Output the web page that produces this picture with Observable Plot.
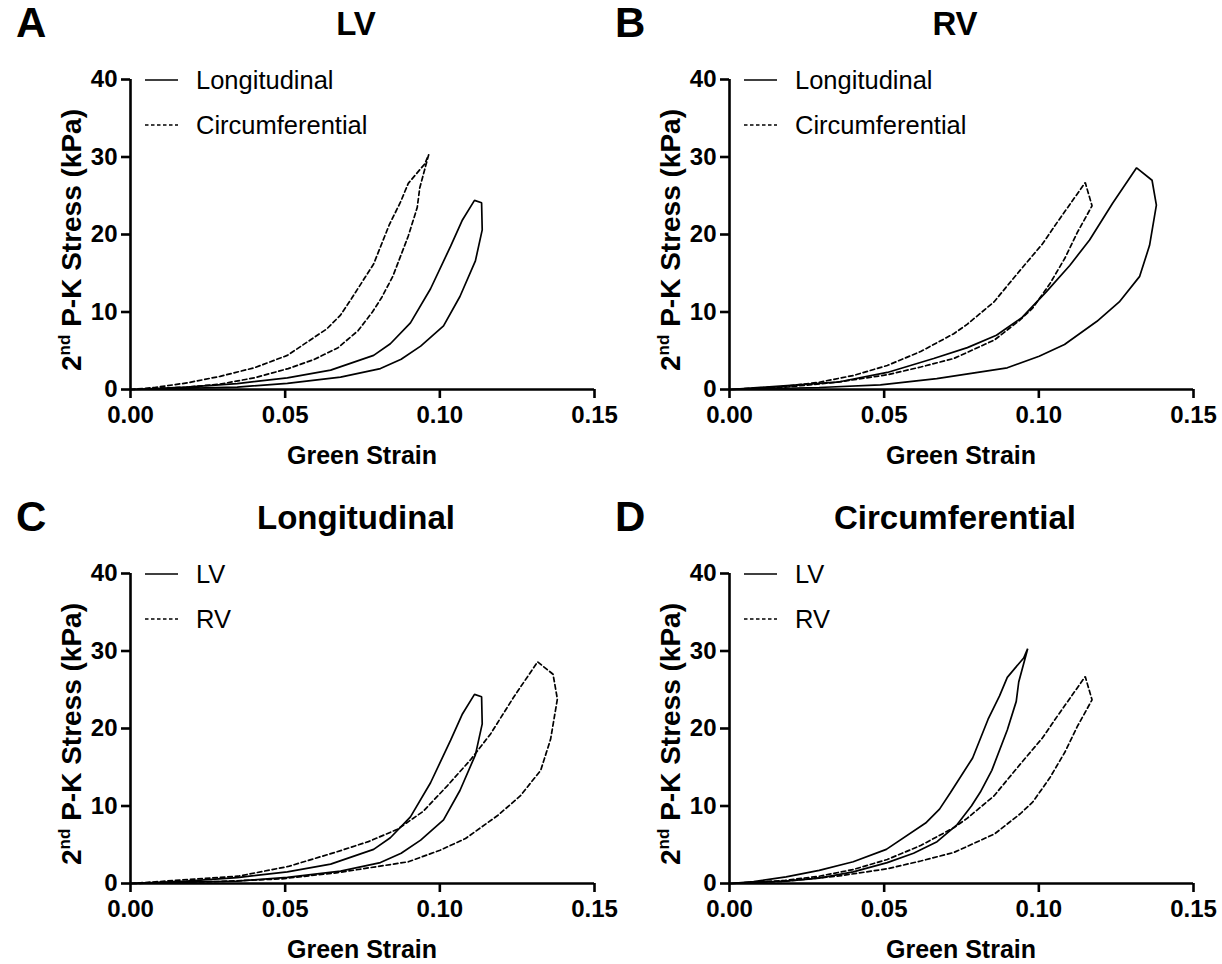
<!DOCTYPE html>
<html><head><meta charset="utf-8">
<script src="https://cdn.jsdelivr.net/npm/d3@7"></script>
<script src="https://cdn.jsdelivr.net/npm/@observablehq/plot@0.6"></script>
<style>
body{margin:0;background:#fff;}
#root{position:relative;width:1222px;height:964px;overflow:hidden;background:#fff;}
.panel{position:absolute;}
</style></head><body><div id="root"></div>
<script>
// ---- data (Green strain, 2nd P-K stress in kPa) ----
const xTicks = [0, 0.05, 0.10, 0.15];
const yTicks = [0, 10, 20, 30, 40];

const lvLongStrain = [0,0.018,0.0345,0.0507,0.0647,0.0786,0.084,0.0905,0.097,0.1035,0.1072,0.1112,0.1135,0.1137,0.1115,0.1065,0.1012,0.0938,0.0875,0.0808,0.0679,0.0507,0.0345,0];
const lvLongStress = [0,0.3,0.77,1.5,2.5,4.4,5.9,8.6,13.0,18.5,21.8,24.4,24.1,20.6,16.6,12.0,8.2,5.6,3.9,2.7,1.6,0.8,0.3,0];

const rvLongStrain = [0,0.0348,0.051,0.066,0.0769,0.0863,0.0946,0.1024,0.110,0.1164,0.1238,0.1316,0.1366,0.138,0.1358,0.1326,0.126,0.1188,0.1083,0.1001,0.0898,0.067,0.0488,0.029,0];
const rvLongStress = [0,0.94,2.2,4.0,5.4,7.0,9.3,12.6,16.0,19.3,24.0,28.6,27.0,23.8,18.6,14.6,11.3,8.8,5.8,4.3,2.8,1.4,0.6,0.26,0];

const lvCircStrain = [0,0.0078,0.0183,0.029,0.040,0.0507,0.0634,0.0679,0.0714,0.0786,0.0836,0.0873,0.0898,0.0951,0.0964,0.0935,0.0927,0.0898,0.0848,0.0811,0.0782,0.0736,0.0671,0.0595,0.051,0.040,0.029,0.0183,0];
const lvCircStress = [0,0.26,0.85,1.7,2.8,4.4,7.8,9.6,11.7,16.2,21.2,24.2,26.6,29.1,30.3,26.0,23.5,19.8,14.6,11.8,10.0,7.6,5.4,3.9,2.7,1.5,0.7,0.3,0];

const rvCircStrain = [0,0.018,0.029,0.040,0.051,0.0618,0.0725,0.0768,0.0855,0.094,0.1012,0.106,0.115,0.1172,0.1125,0.1085,0.1035,0.098,0.094,0.0857,0.0725,0.0618,0.051,0.0348,0.018,0];
const rvCircStress = [0,0.4,0.94,1.8,3.1,4.9,7.2,8.4,11.3,15.4,18.8,21.6,26.7,23.7,20.3,17.0,13.6,10.5,9.0,6.4,4.0,2.9,1.9,0.94,0.3,0];

const panels = [
  {letter:"A", title:"LV", left:0, top:0,
   series:[{name:"Longitudinal", xs:lvLongStrain, ys:lvLongStress, dash:false},
           {name:"Circumferential", xs:lvCircStrain, ys:lvCircStress, dash:true}]},
  {letter:"B", title:"RV", left:599, top:0,
   series:[{name:"Longitudinal", xs:rvLongStrain, ys:rvLongStress, dash:false},
           {name:"Circumferential", xs:rvCircStrain, ys:rvCircStress, dash:true}]},
  {letter:"C", title:"Longitudinal", left:0, top:494,
   series:[{name:"LV", xs:lvLongStrain, ys:lvLongStress, dash:false},
           {name:"RV", xs:rvLongStrain, ys:rvLongStress, dash:true}]},
  {letter:"D", title:"Circumferential", left:599, top:494,
   series:[{name:"LV", xs:lvCircStrain, ys:lvCircStress, dash:false},
           {name:"RV", xs:rvCircStrain, ys:rvCircStress, dash:true}]}
];

const FONT = "'Liberation Sans', Arial, Helvetica, sans-serif";
const DASH = "4.5,3";
const W = 611, H = 482, ML = 130, MR = 17, MT = 79, MB = 93;

const root = document.getElementById("root");

for (const p of panels) {
  const marks = [
    Plot.axisX({ticks: xTicks, tickFormat: d => d.toFixed(2), tickSize: 9, tickPadding: 7,
                strokeWidth: 2.6, fontSize: 24, fontWeight: "bold", label: null}),
    Plot.axisY({ticks: yTicks, tickSize: 9, tickPadding: 4,
                strokeWidth: 2.6, fontSize: 24, fontWeight: "bold", label: null}),
    Plot.ruleY([0], {x1: 0, x2: 0.15, stroke: "black", strokeWidth: 2.6}),
    Plot.ruleX([0], {y1: 0, y2: 40, stroke: "black", strokeWidth: 2.6})
  ];
  for (const s of p.series) {
    const rows = s.xs.map((x, i) => ({strain: x, stress: s.ys[i]}));
    marks.push(Plot.line(rows, {x: "strain", y: "stress", stroke: "black", strokeWidth: 1.7,
      strokeDasharray: s.dash ? DASH : null, strokeLinejoin: "miter"}));
  }
  const svg = Plot.plot({
    width: W, height: H, marginLeft: ML, marginRight: MR, marginTop: MT, marginBottom: MB,
    x: {domain: [0, 0.15]}, y: {domain: [0, 40]},
    style: {fontFamily: FONT, color: "black", background: "transparent", overflow: "visible"},
    marks
  });
  const div = document.createElement("div");
  div.className = "panel";
  div.style.left = p.left + "px";
  div.style.top = p.top + "px";
  div.appendChild(svg);
  root.appendChild(div);

  const g = d3.select(svg).append("g").attr("font-family", FONT).attr("fill", "black")
    .attr("text-anchor", "start");
  // panel letter
  g.append("text").attr("x", 16).attr("y", 37).attr("font-size", 42).attr("font-weight", "bold").text(p.letter);
  // title
  g.append("text").attr("x", 356).attr("y", 35).attr("text-anchor", "middle")
    .attr("font-size", 33).attr("font-weight", "bold").text(p.title);
  // x label
  g.append("text").attr("x", ML + (W - ML - MR) / 2).attr("y", 464).attr("text-anchor", "middle")
    .attr("font-size", 25).attr("font-weight", "bold").text("Green Strain");
  // y label with superscript
  const yl = g.append("text").attr("transform", `translate(81,${MT + (H - MT - MB) / 2 + 6}) rotate(-90)`)
    .attr("text-anchor", "middle").attr("font-size", 28).attr("font-weight", "bold");
  yl.append("tspan").text("2");
  yl.append("tspan").attr("font-size", 17).attr("dy", -11).text("nd");
  yl.append("tspan").attr("dy", 11).text(" P-K Stress (kPa)");
  // legend
  p.series.forEach((s, i) => {
    const y = 80 + i * 45;
    g.append("line").attr("x1", 145).attr("x2", 178).attr("y1", y).attr("y2", y)
      .attr("stroke", "black").attr("stroke-width", 1.7).attr("stroke-dasharray", s.dash ? "3.5,2.5" : null);
    g.append("text").attr("x", 196).attr("y", y + 9).attr("font-size", 25.5).text(s.name);
  });
}
</script>
</body></html>
